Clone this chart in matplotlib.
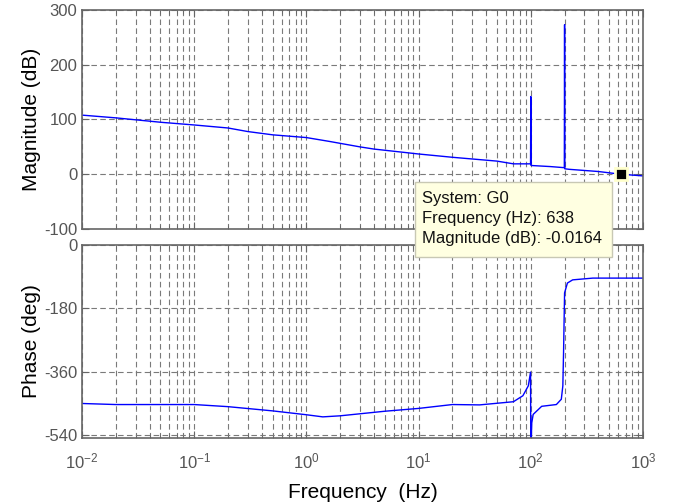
import numpy as np
import matplotlib
matplotlib.use("Agg")
import matplotlib.pyplot as plt
from matplotlib.patches import Rectangle

plt.rcParams['font.family'] = ['Liberation Sans', 'DejaVu Sans']
plt.rcParams['mathtext.fontset'] = 'custom'
plt.rcParams['mathtext.rm'] = 'Liberation Sans'
plt.rcParams['mathtext.it'] = 'Liberation Sans'
plt.rcParams['axes.unicode_minus'] = False

# magnitude response
freq_mag = [0.01, 0.02, 0.05, 0.1, 0.2, 0.3, 0.5, 1.0, 1.6, 3.0, 4.0, 10, 20, 50, 70,
            99.5, 100, 100.5, 150, 199, 200, 201, 220, 400, 638, 1000]
mag_db = [108, 103, 95, 90, 84.5, 78, 72, 67, 60, 50, 46, 37, 31, 24, 19,
          19, 142, 16, 14, 12, 273, 10, 9, 5, 0, -3]

# phase response
freq_ph = [0.01, 0.02, 0.1, 0.2, 0.5, 1.0, 1.4, 2.0, 5, 10, 20, 35, 70, 85, 95, 99.5,
           100, 100.3, 102, 105, 125, 169, 187, 193, 196, 200, 212, 236, 357, 1000]
phase_deg = [-450, -453, -453, -459, -471, -482, -488, -485, -472, -464, -453, -454,
             -445, -428, -400, -361, -620, -580, -505, -481, -458, -453, -438, -400,
             -300, -136, -108, -99, -94, -94]

tip_freq = 638
tip_mag = -0.0164
tip_lines = ["System: G0", "Frequency (Hz): 638", "Magnitude (dB): -0.0164"]

W, H = 674, 504
fig = plt.figure(figsize=(W / 100, H / 100), dpi=100)
ax1 = fig.add_axes([82 / W, 1 - 229 / H, 561 / W, 219 / H])
ax2 = fig.add_axes([82 / W, 1 - 438 / H, 561 / W, 193 / H])

edge = '#666666'
tickc = '#555555'
for ax in (ax1, ax2):
    ax.set_xscale('log')
    ax.set_xlim(1e-2, 1e3)
    ax.grid(True, which='major', axis='both', color='#7a7a7a', linestyle=(0, (5, 3)), lw=0.8)
    ax.grid(True, which='minor', axis='x', color='#7a7a7a', linestyle=(0, (5, 3)), lw=0.8)
    ax.set_axisbelow(True)
    for s in ax.spines.values():
        s.set_color(edge)
        s.set_linewidth(1.2)
    ax.tick_params(which='both', direction='in', top=True, right=True, color=edge,
                   labelcolor=tickc, labelsize=12)
    ax.tick_params(which='major', length=5)
    ax.tick_params(which='minor', length=3)
    ax.tick_params(axis='y', which='minor', left=False, right=False)

ax1.plot(freq_mag, mag_db, color='#0000ff', lw=1.0)
ax1.set_ylim(-100, 300)
ax1.set_yticks([-100, 0, 100, 200, 300])
ax1.tick_params(axis='x', labelbottom=False)
ax1.set_ylabel('Magnitude (dB)', fontsize=15, labelpad=2)
ax1.plot([tip_freq], [tip_mag], marker='s', ms=9, color='black', mec='#ffffcc',
         mew=2, clip_on=False, zorder=6)

ax2.plot(freq_ph, phase_deg, color='#0000ff', lw=1.0)
ax2.set_ylim(-548, 0)
ax2.set_yticks([0, -180, -360, -540])
ax2.set_ylabel('Phase (deg)', fontsize=15, labelpad=2)
ax2.set_xlabel('Frequency  (Hz)', fontsize=15, labelpad=8)
ax2.tick_params(axis='x', pad=10)

# data tip box
x0, y0, x1, y1 = 415, 182, 612, 257
fig.add_artist(Rectangle((x0 / W, 1 - y1 / H), (x1 - x0) / W, (y1 - y0) / H,
                         transform=fig.transFigure, facecolor='#ffffe1',
                         edgecolor='#c8c8b4', lw=1.0, zorder=10))
for i, line in enumerate(tip_lines):
    fig.text(422 / W, 1 - (199 + 20 * i) / H, line, fontsize=12, va='center',
             ha='left', color='#111111', zorder=11)

fig.savefig('out.png', dpi=100)
